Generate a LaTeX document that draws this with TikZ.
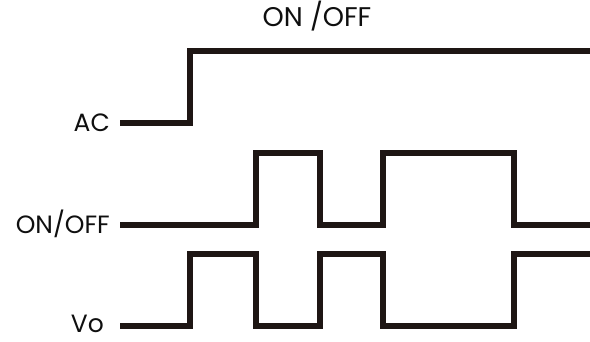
\documentclass[tikz,border=0pt]{standalone}
\usepackage{fontspec}
\setmainfont{Poppins}
\begin{document}
\begin{tikzpicture}[x=1pt,y=-1pt,
  wave/.style={line width=5.5pt,draw={rgb,255:red,30;green,22;blue,20},line join=miter},
  lbl/.style={font=\fontsize{25}{30}\selectfont,text={rgb,255:red,15;green,15;blue,15},inner sep=0pt,anchor=base east}]
\useasboundingbox (0,0) rectangle (590,342);
\node[lbl,font=\fontsize{27}{32}\selectfont,anchor=base] (title) at (317,27) {ON /OFF};
\node[lbl] (ac) at (110,132) {AC};
\node[lbl] (onoff) at (110,234) {ON/OFF};
\node[lbl,text depth=0pt] (vo) at (104,333) {Vo};
% AC
\coordinate (a0) at (120,123);
\draw[wave] (a0) -- (190,123) -- (190,51) -- (590,51);
% ON/OFF
\coordinate (b0) at (120,225);
\draw[wave] (b0) -- (256,225) -- (256,153) -- (320,153) -- (320,225) -- (383,225) -- (383,153) -- (514,153) -- (514,225) -- (590,225);
% Vo
\coordinate (c0) at (120,326);
\draw[wave] (c0) -- (190,326) -- (190,254) -- (256,254) -- (256,326) -- (320,326) -- (320,254) -- (383,254) -- (383,326) -- (514,326) -- (514,254) -- (590,254);
\end{tikzpicture}
\end{document}
